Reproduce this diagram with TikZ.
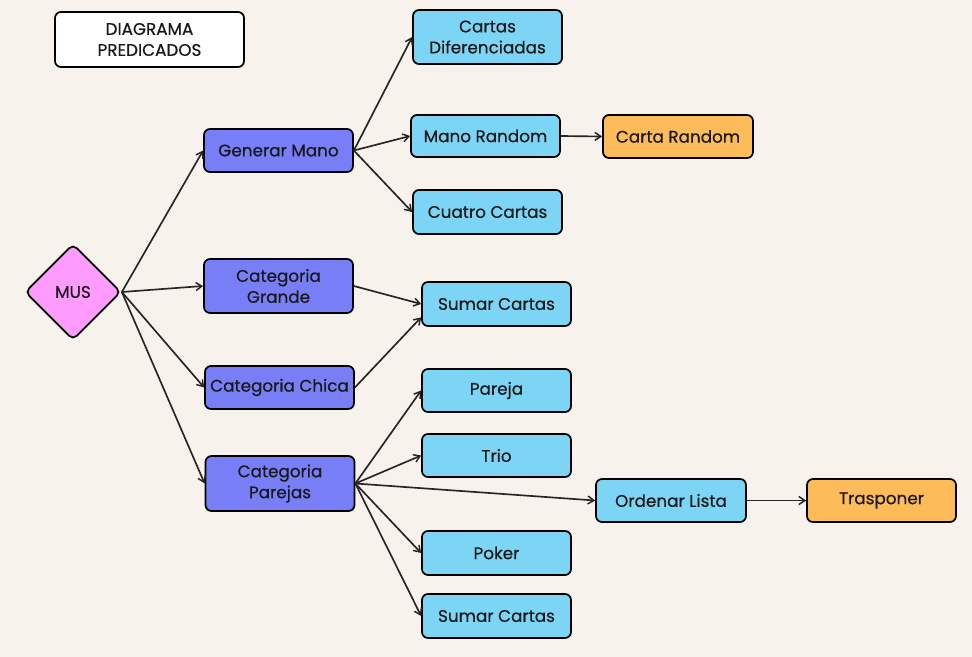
\documentclass[tikz,border=0pt]{standalone}
\usepackage{fontspec}
\setmainfont{Poppins}[FakeBold=0.6]
\usetikzlibrary{shapes.geometric,arrows.meta}
\definecolor{bg}{HTML}{F7F3EC}
\definecolor{purp}{HTML}{787FF6}
\definecolor{cyanb}{HTML}{7DD5F6}
\definecolor{orng}{HTML}{FEBB5A}
\definecolor{pinkd}{HTML}{FE9BFE}
\begin{document}
\begin{tikzpicture}[x=0.75pt,y=-0.75pt,
  box/.style={draw=black,line width=1.3pt,rounded corners=4.5pt,minimum width=149*0.75pt,align=center,font=\fontsize{12.6}{15.75}\selectfont,text=black!90,inner sep=0pt},
  pbox/.style={box,fill=purp},
  cbox/.style={box,fill=cyanb},
  obox/.style={box,fill=orng},
  conn/.style={draw=black!85,line width=1.25pt,-{Straight Barb[length=4.5pt,width=6pt,line width=1.1pt]}}]
\fill[bg] (0,0) rectangle (972,657);
\useasboundingbox (0,0) rectangle (972,657);
\node[box,fill=white,minimum width=189*0.75pt,minimum height=55*0.75pt] (title) at (149.5,39.5) {DIAGRAMA\\PREDICADOS};
\node[draw=black,line width=1.3pt,fill=pinkd,shape=diamond,minimum width=96*0.75pt,minimum height=96*0.75pt,inner sep=0pt,rounded corners=4pt,font=\fontsize{12.6}{15}\selectfont,text=black!90] (mus) at (73,292) {MUS};
\node[pbox,minimum height=43*0.75pt] (gen) at (278.5,150.5) {Generar Mano};
\node[pbox,minimum height=54*0.75pt] (gra) at (278.5,286) {Categoria\\Grande};
\node[pbox,minimum height=43*0.75pt] (chi) at (279.5,387.5) {Categoria Chica};
\node[pbox,minimum height=55*0.75pt] (par) at (280,483.5) {Categoria\\Parejas};
\node[cbox,minimum height=54*0.75pt] (dif) at (487.5,37) {Cartas\\Diferenciadas};
\node[cbox,minimum height=42*0.75pt] (mr) at (485.5,136) {Mano Random};
\node[obox,minimum height=43*0.75pt,minimum width=150*0.75pt] (cr) at (678,136.5) {Carta Random};
\node[cbox,minimum height=44*0.75pt] (cc) at (487.5,212) {Cuatro Cartas};
\node[cbox,minimum height=44*0.75pt] (s1) at (496.5,304) {Sumar Cartas};
\node[cbox,minimum height=43*0.75pt] (pa) at (496.5,390.5) {Pareja};
\node[cbox,minimum height=43*0.75pt] (tr) at (496.5,455.5) {Trio};
\node[cbox,minimum height=43*0.75pt,minimum width=150*0.75pt] (ol) at (671,500.5) {Ordenar Lista};
\node[obox,minimum height=43*0.75pt] (tp) at (881.5,500.5) {Trasponer};
\node[cbox,minimum height=44*0.75pt] (po) at (496.5,553) {Poker};
\node[cbox,minimum height=44*0.75pt] (s2) at (496.5,616) {Sumar Cartas};
\draw[conn] (mus.east) -- (gen.west);
\draw[conn] (mus.east) -- (gra.west);
\draw[conn] (mus.east) -- (chi.west);
\draw[conn] (mus.east) -- (par.west);
\draw[conn] (gen.east) -- (dif.west);
\draw[conn] (gen.east) -- (mr.west);
\draw[conn] (gen.east) -- (cc.west);
\draw[conn] (mr.east) -- (cr.west);
\draw[conn] (gra.east) -- (s1.west);
\draw[conn] (chi.east) -- ([yshift=-10pt]s1.west);
\draw[conn] (par.east) -- (pa.west);
\draw[conn] (par.east) -- (tr.west);
\draw[conn] (par.east) -- (ol.west);
\draw[conn] (par.east) -- (po.west);
\draw[conn] (par.east) -- (s2.west);
\draw[conn] (ol.east) -- (tp.west);
\end{tikzpicture}
\end{document}
